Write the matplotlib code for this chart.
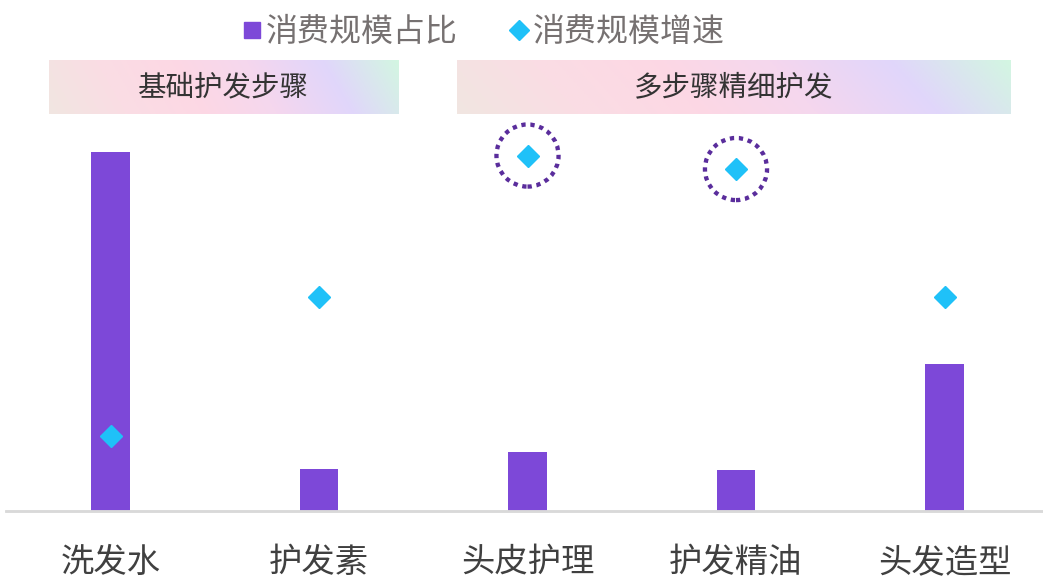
import numpy as np
import matplotlib
matplotlib.use("Agg")
import matplotlib.pyplot as plt
from matplotlib.colors import LinearSegmentedColormap
from matplotlib.lines import Line2D

plt.rcParams['font.family'] = ['Noto Sans CJK SC', 'DejaVu Sans']

categories = ['洗发水', '护发素', '头皮护理', '护发精油', '头发造型']
share = [55.2, 6.5, 9.1, 6.3, 22.6]        # 消费规模占比 (%)
growth = [5.0, 14.3, 23.7, 22.8, 14.3]     # 消费规模增速 (%)
groups = [('基础护发步骤', 0, 1), ('多步骤精细护发', 2, 4)]

bar_color = '#7d48d8'
dot_color = '#1fc1f8'
ring_color = '#5a2d9c'

fig = plt.figure(figsize=(10.43, 5.8), dpi=100)
ax = fig.add_axes([6.25 / 1043, 69 / 580, 1042.5 / 1043, 451 / 580])
ax2 = ax.twinx()

x = np.arange(len(categories))
ax.bar(x, share, width=0.187, color=bar_color, zorder=2)
ax2.plot(x, growth, 'D', color=dot_color, markersize=11, zorder=3)

# dotted rings around the two fastest-growing items
top2 = np.argsort(growth)[-2:]
ax2.scatter(x[top2], np.array(growth)[top2], s=2000, facecolors='none',
            edgecolors=ring_color, linewidths=3.1, linestyles=(0, (1, 1.1)), zorder=4)

# pastel gradient header boxes for each group
grad_cmap = LinearSegmentedColormap.from_list(
    'pastel', ['#f1e6e1', '#fadde4', '#fdd8e4', '#f5d7ee', '#e1d6fb', '#d3f6e2'])
gx, gy = np.meshgrid(np.linspace(0, 1, 300), np.linspace(0, 1, 40))
grad = np.clip(gx * 0.92 + (1 - gy) * 0.08, 0, 1)
pads = [(0.295, 0.379), (0.338, 0.319)]
for (label, i0, i1), (pl, pr) in zip(groups, pads):
    left, right = i0 - pl, i1 + pr
    ax.imshow(grad, cmap=grad_cmap, extent=(left, right, 61.1, 69.4),
              aspect='auto', origin='upper', zorder=1, clip_on=False)
    ax.text((left + right) / 2, 65.25, label, ha='center', va='center',
            fontsize=20.5, color='#333333', zorder=2)
ax.set_xlim(-0.5, len(categories) - 0.5)
ax.set_ylim(0, 69.4)
ax2.set_ylim(0, 30.07)

ax.set_xticks(x)
ax.set_xticklabels(categories, fontsize=24, color='#404040')
ax.tick_params(axis='x', length=0, pad=24.5)
ax.set_yticks([])
ax2.set_yticks([])
for a in (ax, ax2):
    for side in ('top', 'left', 'right'):
        a.spines[side].set_visible(False)
    a.spines['bottom'].set_color('#d9d9d9')
    a.spines['bottom'].set_linewidth(1.8)

handles = [Line2D([], [], marker='s', linestyle='none', color=bar_color, markersize=12),
           Line2D([], [], marker='D', linestyle='none', color=dot_color, markersize=10)]
fig.legend(handles, ['消费规模占比', '消费规模增速'], loc='upper center',
           bbox_to_anchor=(0.462, 1.022), ncol=2, frameon=False, fontsize=23,
           labelcolor='#767171', handletextpad=0.05, columnspacing=1.5, handlelength=0.8)

fig.savefig('out.png', dpi=100)
